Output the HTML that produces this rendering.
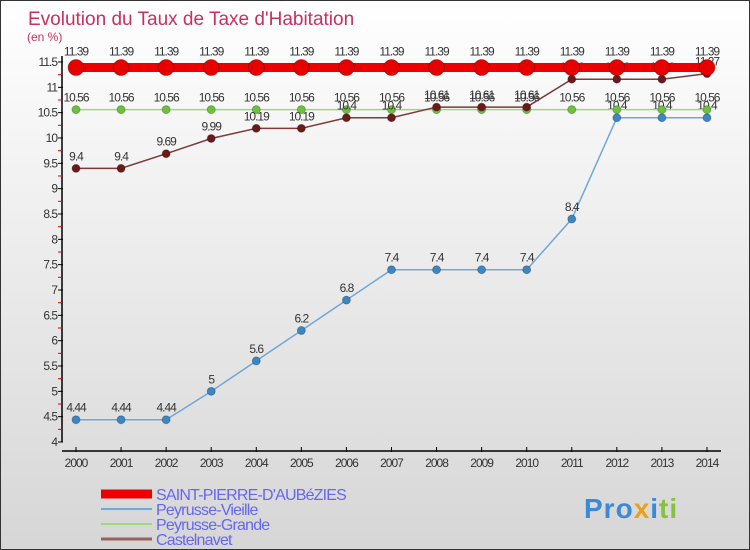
<!DOCTYPE html>
<html><head><meta charset="utf-8"><style>
body{margin:0;}
#c{width:748px;height:548px;border:1px solid #333;background:linear-gradient(#ffffff,#d6d6d6);position:relative;font-family:"Liberation Sans",sans-serif;overflow:hidden}
</style></head><body>
<div id="c">
<svg id="s" width="748" height="548" xmlns="http://www.w3.org/2000/svg"></svg>
</div>
<script>
const years=[2000,2001,2002,2003,2004,2005,2006,2007,2008,2009,2010,2011,2012,2013,2014];
const saint=[11.39,11.39,11.39,11.39,11.39,11.39,11.39,11.39,11.39,11.39,11.39,11.39,11.39,11.39,11.39];
const vieille=[4.44,4.44,4.44,5,5.6,6.2,6.8,7.4,7.4,7.4,7.4,8.4,10.4,10.4,10.4];
const grande=[10.56,10.56,10.56,10.56,10.56,10.56,10.56,10.56,10.56,10.56,10.56,10.56,10.56,10.56,10.56];
const castel=[9.4,9.4,9.69,9.99,10.19,10.19,10.4,10.4,10.61,10.61,10.61,11.16,11.16,11.16,11.27];
const yTicks=[4,4.5,5,5.5,6,6.5,7,7.5,8,8.5,9,9.5,10,10.5,11,11.5];
const yTickLabels=["4","4.5","5","5.5","6","6.5","7","7.5","8","8.5","9","9.5","10","10.5","11","11.5"];
const s=document.getElementById('s');const NS='http://www.w3.org/2000/svg';
function X(i){return 75+i*45.07;}
function Y(v){return 441-(v-4)*50.67;}
function el(t,a,p){const e=document.createElementNS(NS,t);for(const k in a)e.setAttribute(k,a[k]);(p||s).appendChild(e);return e;}
let t=el('text',{x:27,y:24,'font-size':19,fill:'#c8305f'});t.textContent="Evolution du Taux de Taxe d'Habitation";

t=el('text',{x:26,y:40,'font-size':12,fill:'#c8305f'});t.textContent="(en %)";

let a=el('line',{x1:61,y1:55,x2:61,y2:441,stroke:'#000','stroke-width':1.5});

a=el('line',{x1:61,y1:450,x2:720,y2:450,stroke:'#000','stroke-width':1.5});

yTicks.forEach((v,i)=>{const y=Y(v);
 el('line',{x1:57,y1:y,x2:62,y2:y,stroke:'#000'});
 if(i<yTicks.length-1)el('line',{x1:57,y1:Y(v+0.25),x2:60,y2:Y(v+0.25),stroke:'#e00'});
 const l=el('text',{x:56,y:y+4,'font-size':12,fill:'#333','text-anchor':'end','letter-spacing':-1});l.textContent=yTickLabels[i];
 });
years.forEach((yr,i)=>{const x=X(i);el('line',{x1:x,y1:446,x2:x,y2:451,stroke:'#000'});
 const l=el('text',{x:x,y:466,'font-size':12,fill:'#333','text-anchor':'middle','letter-spacing':-1});l.textContent=yr;
 });
function series(data,color,dot,w,r,name){
 const g=el('g',{});
 el('polyline',{points:data.map((v,i)=>X(i)+','+Y(v)).join(' '),fill:'none',stroke:color,'stroke-width':w},g);
 data.forEach((v,i)=>{const c=el('circle',{cx:X(i),cy:Y(v),r:r,fill:dot,stroke:'rgba(0,0,0,0.25)'},g);
  
  const l=el('text',{x:X(i),y:Y(v)-8-(r>5?4:0),'font-size':12,fill:'#333','text-anchor':'middle','letter-spacing':-1},g);l.textContent=v;
  });
}
series(vieille,'#6fa8d8','#3a87c4',1.5,4,'peyrusse-vieille');
series(grande,'#9ed87a','#6cc23a',1.5,4,'peyrusse-grande');
series(castel,'#7a3b3b','#6b1a1a',1.5,4,'castelnavet');
series(saint,'#ee0000','#e60000',9,8,'saint-pierre');
const leg=[['SAINT-PIERRE-D\'AUBéZIES','#ee0000',9,493],['Peyrusse-Vieille','#6fa8d8',2,508],['Peyrusse-Grande','#9ed87a',2,523],['Castelnavet','#9a6060',3,538]];
leg.forEach(d=>{const g=el('g',{});
 el('line',{x1:100,y1:d[3],x2:151,y2:d[3],stroke:d[1],'stroke-width':d[2]},g);
 const l=el('text',{x:155,y:d[3]+6,'font-size':16,fill:'#6666ee','letter-spacing':-0.8},g);l.textContent=d[0];});
const lg=el('text',{x:583,y:517,'font-size':28,'font-weight':'bold',fill:'#f0a020','letter-spacing':1});
lg.innerHTML='<tspan fill="#3a8ad8">Pro</tspan><tspan fill="#e8a020">x</tspan><tspan fill="#3a8ad8">i</tspan><tspan fill="#88c040">ti</tspan>';

</script>
</body></html>
